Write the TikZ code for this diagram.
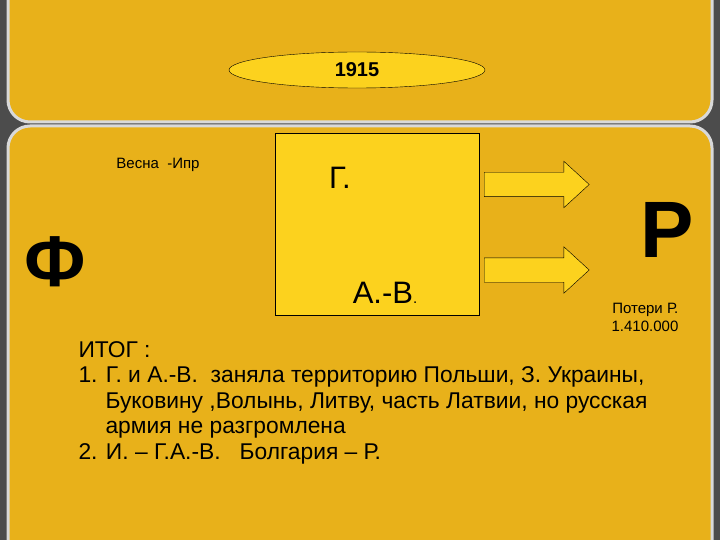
\documentclass[tikz,border=0pt]{standalone}
\usepackage{fontspec}
\setmainfont{Liberation Sans}
\usetikzlibrary{shapes.geometric,shapes.arrows}
\definecolor{gold}{HTML}{E8B11A}
\definecolor{lite}{HTML}{FCD21E}
\begin{document}
\begin{tikzpicture}[x=1pt,y=-1pt,
  panel/.style={fill=gold,draw=white!70!gray,line width=3pt,rounded corners=22pt},
  barrow/.style={single arrow,draw=black,fill=lite,minimum height=105pt,inner xsep=0pt,inner ysep=12pt,single arrow head extend=11pt,single arrow tip angle=85,anchor=west},
  txt/.style={font=\fontsize{22.8}{25.5}\selectfont,anchor=north west,align=left}]
\fill[gray!60!black] (0,0) rectangle (720,540);
\useasboundingbox (0,0) rectangle (720,540);
\draw[panel] (8,-30) rectangle (712,122);
\draw[panel] (8,126) rectangle (712,570);
\node[ellipse,draw=black,fill=lite,minimum width=256pt,minimum height=36pt,inner sep=0pt,font=\bfseries\fontsize{20}{24}\selectfont] (year) at (357,70) {1915};
\node[draw=black,fill=lite,minimum width=204pt,minimum height=182pt,anchor=north west,inner sep=0pt] (box) at (275,133) {};
\node[font=\fontsize{15}{18}\selectfont] (vesna) at (158,165) {Весна \ -Ипр};
\node[font=\fontsize{31}{36}\selectfont] (g) at (340,178) {Г.};
\node[font=\fontsize{31}{36}\selectfont] (av) at (385,293) {А.-В\fontsize{15}{18}\selectfont.};
\node[barrow] (a1) at (484,184.5) {};
\node[barrow] (a2) at (484,270) {};
\node[font=\bfseries\fontsize{80}{90}\selectfont] (r) at (667,230) {Р};
\node[font=\bfseries\fontsize{72}{80}\selectfont] (f) at (55,262) {Ф};
\node[font=\fontsize{15}{18}\selectfont,align=right] (loss) at (645,317) {Потери Р.\\1.410.000};
\node[txt] (itog) at (75,338) {ИТОГ :\\
1. Г. и А.-В. \ заняла территорию Польши, З. Украины,\\
\hspace*{27pt}Буковину ,Волынь, Литву, часть Латвии, но русская\\
\hspace*{27pt}армия не разгромлена\\
2. И. – Г.А.-В. \ \ Болгария – Р.};
\end{tikzpicture}
\end{document}
